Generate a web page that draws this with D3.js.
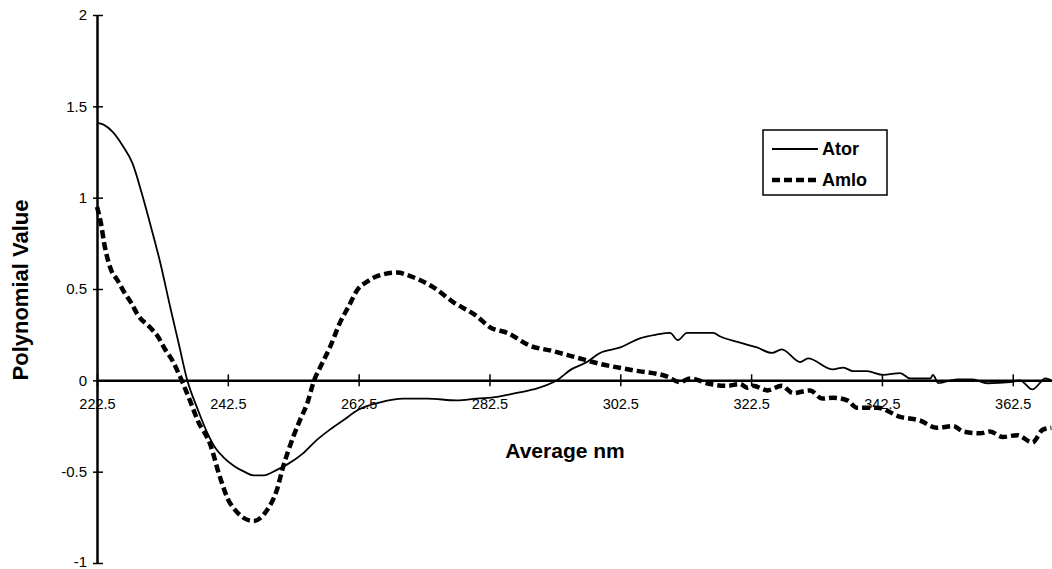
<!DOCTYPE html>
<html>
<head>
<meta charset="utf-8">
<script src="https://cdn.jsdelivr.net/npm/d3@7"></script>
<style>
  html, body { margin: 0; padding: 0; background: #fff; }
  svg { display: block; font-family: "Liberation Sans", Arial, sans-serif; }
</style>
</head>
<body>
<svg id="chart" width="1052" height="569"></svg>
<script>
// ---- data ----
const seriesNames = ["Ator", "Amlo"];

const atorNm = [222.5,223.5,224.9,226.5,227.9,229.3,230.6,232.2,233.7,235.0,236.3,237.8,239.4,240.6,241.8,243.5,245.0,246.4,248.0,250.0,251.6,254.0,256.0,258.1,260.1,262.5,265.8,269.3,273.0,277.5,280.5,283.7,286.5,289.2,292.8,295.0,297.4,299.4,302.5,305.5,308.0,310.1,311.3,312.7,314.7,316.7,317.8,320.4,323.4,325.7,327.2,330.0,331.2,335.0,336.6,338.1,340.2,342.7,345.3,346.8,349.9,350.3,351.1,354.0,356.4,358.6,362.1,363.6,365.5,367.5,368.4];
const atorVal = [1.41,1.40,1.36,1.28,1.19,1.03,0.86,0.64,0.40,0.20,0.0,-0.15,-0.29,-0.37,-0.42,-0.47,-0.50,-0.52,-0.52,-0.49,-0.46,-0.40,-0.33,-0.27,-0.22,-0.16,-0.12,-0.10,-0.10,-0.11,-0.10,-0.09,-0.07,-0.05,0.0,0.06,0.10,0.15,0.18,0.23,0.25,0.26,0.22,0.26,0.26,0.26,0.24,0.21,0.18,0.15,0.17,0.10,0.12,0.06,0.07,0.05,0.05,0.03,0.04,0.01,0.01,0.03,-0.015,0.005,0.005,-0.016,-0.01,0.0,-0.05,0.01,0.0];

const amloNm = [222.5,223.1,223.6,224.7,225.6,226.7,227.8,228.7,230.6,231.8,232.9,234.0,235.2,236.7,237.9,239.8,241.3,242.8,246.4,248.5,250.0,250.9,252.5,253.5,254.6,255.7,256.6,258.1,259.7,260.9,262.4,263.8,265.3,268.4,270.4,273.9,276.9,280.6,282.6,285.2,288.7,292.2,295.3,299.4,304.5,309.7,311.6,313.2,316.2,318.8,320.8,321.9,322.8,325.0,327.2,328.9,331.5,333.4,335.0,337.2,338.7,341.8,345.3,348.3,350.9,353.4,354.9,357.5,359.0,361.0,363.2,365.5,367.1,368.4];
const amloVal = [0.95,0.86,0.75,0.60,0.55,0.48,0.42,0.36,0.29,0.24,0.17,0.11,0.02,-0.11,-0.22,-0.35,-0.53,-0.67,-0.77,-0.71,-0.60,-0.48,-0.31,-0.22,-0.13,0.0,0.07,0.18,0.32,0.40,0.50,0.54,0.57,0.59,0.57,0.51,0.43,0.35,0.29,0.26,0.19,0.16,0.13,0.09,0.055,0.02,-0.01,0.01,-0.02,-0.03,-0.02,-0.04,-0.03,-0.055,-0.03,-0.07,-0.055,-0.10,-0.095,-0.11,-0.15,-0.15,-0.20,-0.22,-0.26,-0.25,-0.28,-0.29,-0.28,-0.31,-0.30,-0.34,-0.27,-0.26];

const xTicks = [222.5, 242.5, 262.5, 282.5, 302.5, 322.5, 342.5, 362.5];
const yTicks = [-1, -0.5, 0, 0.5, 1, 1.5, 2];
const xTitle = "Average nm";
const yTitle = "Polynomial Value";

// ---- drawing ----
const svg = d3.select("#chart");
const x = d3.scaleLinear().domain([222.5, 368.5]).range([97, 1052]);
const y = d3.scaleLinear().domain([-1, 2]).range([563, 15]);

// y axis
const yAxis = svg.append("g").attr("transform", `translate(${x(222.5)},0)`)
  .call(d3.axisLeft(y).tickValues(yTicks).tickSize(4).tickSizeOuter(0).tickPadding(6)
        .tickFormat(d => String(d)));
yAxis.select(".domain").attr("stroke", "#000").attr("stroke-width", 2.5);
yAxis.selectAll(".tick line").attr("x1", 6).attr("x2", -4).attr("stroke", "#000").attr("stroke-width", 1.5);
yAxis.selectAll(".tick text").attr("font-size", 15).attr("fill", "#000")
  .attr("font-family", "'Liberation Sans', Arial, sans-serif")
  .attr("dy", d => d === -1 ? "0.2em" : "0.32em");

// x axis at y = 0
const xAxis = svg.append("g").attr("transform", `translate(0,${y(0)})`)
  .call(d3.axisBottom(x).tickValues(xTicks).tickSize(6).tickSizeOuter(0).tickPadding(12)
        .tickFormat(d => d.toFixed(1)));
xAxis.select(".domain").attr("stroke", "#000").attr("stroke-width", 2.5);
xAxis.selectAll(".tick line").attr("y1", -6).attr("y2", 6).attr("stroke", "#000").attr("stroke-width", 1.5);
xAxis.selectAll(".tick text").attr("font-size", 14.5).attr("fill", "#000")
  .attr("font-family", "'Liberation Sans', Arial, sans-serif");

// lines
const line = d3.line().x(d => x(d[0])).y(d => y(d[1])).curve(d3.curveMonotoneX);
const ator = atorNm.map((n, i) => [n, atorVal[i]]);
const amlo = amloNm.map((n, i) => [n, amloVal[i]]);

svg.append("path").datum(ator).attr("d", line)
  .attr("fill", "none").attr("stroke", "#000").attr("stroke-width", 1.8);
svg.append("path").datum(amlo).attr("d", line)
  .attr("fill", "none").attr("stroke", "#000").attr("stroke-width", 4.5)
  .attr("stroke-dasharray", "8,4");

// titles
svg.append("text").attr("x", 565).attr("y", 458).attr("text-anchor", "middle")
  .attr("font-size", 21).attr("font-weight", "bold").text(xTitle);
svg.append("text").attr("transform", "translate(28,290) rotate(-90)").attr("text-anchor", "middle")
  .attr("font-size", 22).attr("font-weight", "bold").text(yTitle);

// legend
const lg = svg.append("g");
lg.append("rect").attr("x", 763).attr("y", 130).attr("width", 124).attr("height", 65)
  .attr("fill", "#fff").attr("stroke", "#000").attr("stroke-width", 1.5);
const legendItems = [
  { name: seriesNames[0], w: 1.8, dash: null, ly: 149 },
  { name: seriesNames[1], w: 4.5, dash: "8,4", ly: 180 }
];
legendItems.forEach(it => {
  const l = lg.append("line").attr("x1", 772).attr("x2", 818).attr("y1", it.ly).attr("y2", it.ly)
    .attr("stroke", "#000").attr("stroke-width", it.w);
  if (it.dash) l.attr("stroke-dasharray", it.dash);
  lg.append("text").attr("x", 822).attr("y", it.ly + 6).attr("font-size", 18)
    .attr("font-weight", "bold").attr("fill", "#000").text(it.name);
});
</script>
</body>
</html>
